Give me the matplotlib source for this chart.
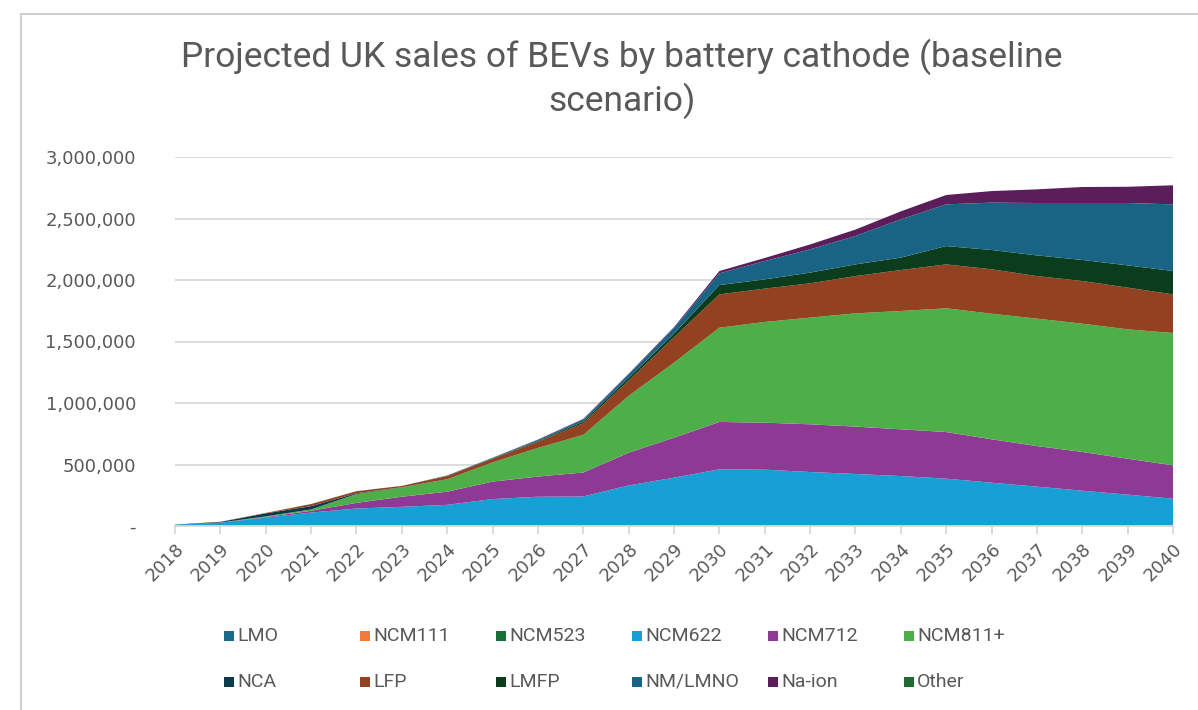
import matplotlib
matplotlib.use("Agg")
import matplotlib.pyplot as plt
from matplotlib.patches import Rectangle
from matplotlib.lines import Line2D
from matplotlib.ticker import FuncFormatter, MultipleLocator
import numpy as np

years = list(range(2018, 2041))

series_names = ["LMO", "NCM111", "NCM523", "NCM622", "NCM712", "NCM811+",
                "NCA", "LFP", "LMFP", "NM/LMNO", "Na-ion", "Other"]

lmo     = [3000, 4000, 3000, 2000, 1000, 500, 0, 0, 0, 0, 0, 0, 0, 0, 0, 0, 0, 0, 0, 0, 0, 0, 0]
ncm111  = [1000, 1000, 1000, 500, 0, 0, 0, 0, 0, 0, 0, 0, 0, 0, 0, 0, 0, 0, 0, 0, 0, 0, 0]
ncm523  = [1000, 2000, 2000, 2000, 1000, 500, 0, 0, 0, 0, 0, 0, 0, 0, 0, 0, 0, 0, 0, 0, 0, 0, 0]
ncm622  = [5000, 20000, 62000, 105000, 140000, 155000, 172000, 219000, 238000, 240000, 330000, 393000,
           461000, 458000, 439000, 423000, 406000, 385000, 352000, 320000, 287000, 255000, 222000]
ncm712  = [0, 1000, 5000, 14000, 46000, 82000, 107000, 142000, 164000, 195000, 266000, 325000,
           385000, 382000, 388000, 385000, 380000, 379000, 353000, 330000, 315000, 292000, 271000]
ncm811  = [0, 0, 5000, 11000, 72000, 76000, 100000, 155000, 232000, 305000, 461000, 610000,
           766000, 819000, 867000, 921000, 962000, 1006000, 1021000, 1036000, 1043000, 1052000, 1076000]
nca     = [2000, 5000, 25000, 27000, 6000, 2000, 1000, 1000, 1000, 1000, 1000, 0,
           0, 0, 0, 0, 0, 0, 0, 0, 0, 0, 0]
lfp     = [0, 1000, 3000, 17000, 17000, 10000, 27000, 30000, 50000, 95000, 124000, 206000,
           271000, 271000, 279000, 303000, 333000, 357000, 361000, 346000, 347000, 339000, 314000]
lmfp    = [0, 0, 0, 0, 0, 0, 0, 3000, 6000, 13000, 22000, 30000,
           76000, 75000, 87000, 95000, 101000, 149000, 157000, 168000, 171000, 181000, 190000]
nm_lmno = [0, 0, 0, 0, 0, 0, 4000, 5000, 10000, 17000, 28000, 45000,
           95000, 149000, 189000, 231000, 311000, 339000, 385000, 426000, 463000, 507000, 542000]
na_ion  = [0, 0, 0, 0, 0, 0, 0, 0, 2000, 5000, 6000, 8000,
           19000, 25000, 40000, 52000, 65000, 76000, 94000, 111000, 130000, 132000, 155000]
other   = [0, 500, 500, 500, 500, 0, 0, 0, 0, 0, 0, 0, 0, 0, 0, 0, 0, 0, 0, 0, 0, 0, 0]

colors = ["#1B6A8A", "#F07A3C", "#147035", "#18A0D6", "#8E3A94", "#4EAF48",
          "#0B3A4F", "#924220", "#0B3C1B", "#196485", "#5B1E5A", "#216B33"]

data = [lmo, ncm111, ncm523, ncm622, ncm712, ncm811, nca, lfp, lmfp, nm_lmno, na_ion, other]

W, H = 1198, 710
fig = plt.figure(figsize=(W / 100, H / 100), dpi=100)
fig.patch.set_facecolor("white")

# chart area border (top & left visible)
fig.add_artist(Line2D([21 / W, 21 / W], [0, 1 - 14 / H], transform=fig.transFigure,
                      color="#D0D0D0", lw=1.5))
fig.add_artist(Line2D([21 / W, 1], [1 - 14 / H, 1 - 14 / H], transform=fig.transFigure,
                      color="#D0D0D0", lw=1.5))

ax = fig.add_axes([175 / W, 1 - 526 / H, (1173 - 175) / W, (526 - 157) / H])
ax.stackplot(years, *data, colors=colors, labels=series_names, linewidth=0, zorder=2)

ax.set_xlim(2018, 2040)
ax.set_ylim(0, 3000000)
ax.yaxis.set_major_locator(MultipleLocator(500000))
ax.yaxis.set_major_formatter(FuncFormatter(lambda v, p: "-" if v == 0 else f"{int(v):,}"))
ax.grid(axis="y", color="#D9D9D9", linewidth=1.3, zorder=0)
ax.set_axisbelow(True)
for s in ["top", "right", "left"]:
    ax.spines[s].set_visible(False)
ax.spines["bottom"].set_color("#D9D9D9")
ax.spines["bottom"].set_linewidth(1.3)

ax.set_xticks(years)
ax.set_xticklabels([str(y) for y in years], rotation=45, ha="right", va="top",
                   rotation_mode="anchor")
ax.tick_params(axis="x", length=6, color="#D9D9D9", width=1.3, labelsize=13,
               labelcolor="#595959", pad=4)
ax.tick_params(axis="y", length=0, labelsize=13, labelcolor="#595959", pad=28)

fig.text(622 / W, 1 - 79 / H, "Projected UK sales of BEVs by battery cathode (baseline\nscenario)",
         ha="center", va="center", fontsize=25.5, color="#595959",
         family=["Roboto", "DejaVu Sans"], linespacing=1.25)

# legend drawn as 2 rows x 6 columns
col_x = [224, 360, 496, 632, 768, 904]
row_y = [636, 682]
for i, (name, c) in enumerate(zip(series_names, colors)):
    r, k = divmod(i, 6)
    x0 = col_x[k]
    y0 = row_y[r]
    fig.add_artist(Rectangle((x0 / W, 1 - (y0 + 5) / H), 10 / W, 10 / H,
                             transform=fig.transFigure, facecolor=c, edgecolor="none"))
    fig.text((x0 + 13) / W, 1 - y0 / H, name, ha="left", va="center", fontsize=14,
             color="#595959", family=["Roboto", "DejaVu Sans"])

fig.savefig("out.png", dpi=100, facecolor="white")
